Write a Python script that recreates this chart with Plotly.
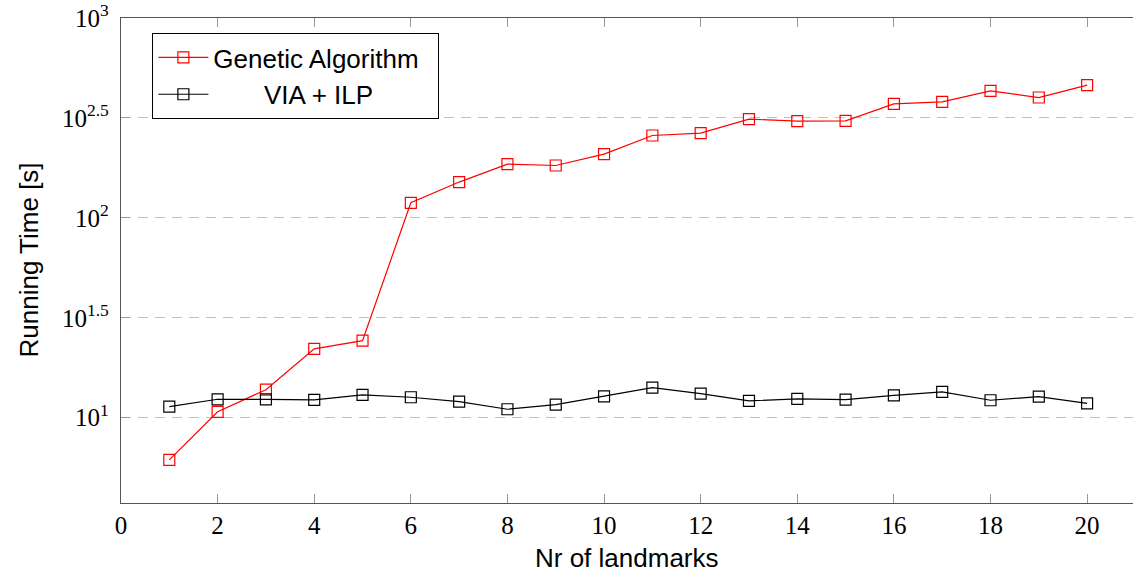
import plotly.graph_objects as go

# Number of landmarks
landmarks = list(range(1, 21))

# Running time in seconds for each method
genetic_algorithm = [6.15, 10.7, 13.8, 22.1, 24.3, 118.9, 151.0, 185.8, 182.8, 208.4,
                     258.2, 265.5, 311.9, 304.8, 305.5, 371.5, 380.2, 431.5, 400.0, 461.3]
via_ilp = [11.35, 12.36, 12.36, 12.27, 13.0, 12.65, 12.02, 11.02, 11.61, 12.79,
           14.13, 13.18, 12.13, 12.42, 12.30, 12.94, 13.46, 12.22, 12.74, 11.80]

# Log-axis ticks and their labels
y_tick_vals = [10, 10 ** 1.5, 100, 10 ** 2.5, 1000]
y_tick_text = ["10<sup>1</sup>", "10<sup>1.5</sup>", "10<sup>2</sup>",
               "10<sup>2.5</sup>", "10<sup>3</sup>"]

NBSP = "\u00a0"

fig = go.Figure()
fig.add_trace(go.Scatter(
    x=landmarks, y=genetic_algorithm, mode="lines+markers",
    name="Genetic Algorithm" + NBSP * 2,
    line=dict(color="#ff0000", width=1.2),
    marker=dict(symbol="square-open", size=11, color="#ff0000", line=dict(width=1.2)),
))
fig.add_trace(go.Scatter(
    x=landmarks, y=via_ilp, mode="lines+markers",
    name=NBSP * 7 + "VIA + ILP",
    line=dict(color="#000000", width=1.2),
    marker=dict(symbol="square-open", size=11, color="#000000", line=dict(width=1.2)),
))

serif = "Liberation Serif"
sans = "Liberation Sans"

fig.update_layout(
    width=1133, height=576,
    margin=dict(l=121, r=0, t=18, b=73),
    paper_bgcolor="white", plot_bgcolor="white",
    showlegend=True,
    legend=dict(
        x=0.031, y=0.969, xanchor="left", yanchor="top",
        bordercolor="black", borderwidth=1, bgcolor="white",
        font=dict(family=sans, size=26, color="black"),
        itemwidth=50, tracegroupgap=0,
    ),
    xaxis=dict(
        range=[0, 20.95], tick0=0, dtick=2,
        ticks="inside", ticklen=9, tickcolor="#999999", tickwidth=1,
        showline=True, linecolor="#555555", linewidth=1.3, mirror="ticks",
        showgrid=False, zeroline=False,
        tickfont=dict(family=serif, size=25, color="black"),
    ),
    yaxis=dict(
        type="log", range=[0.573, 3.0],
        tickmode="array", tickvals=y_tick_vals, ticktext=y_tick_text,
        ticks="inside", ticklen=9, tickcolor="#999999", tickwidth=1,
        showline=True, linecolor="#555555", linewidth=1.3,
        showgrid=True, gridcolor="#c0c0c0", gridwidth=1, griddash="10px,7px",
        zeroline=False,
        tickfont=dict(family=serif, size=25, color="black"),
        ticklabelstandoff=6,
    ),
    annotations=[
        dict(text="Nr of landmarks", xref="paper", yref="paper", x=0.5, y=0,
             xanchor="center", yanchor="middle", yshift=-55, showarrow=False,
             font=dict(family=sans, size=26, color="black")),
        dict(text="Running Time [s]", xref="paper", yref="paper", x=0, y=0.5,
             xanchor="center", yanchor="middle", xshift=-93, textangle=-90,
             showarrow=False, font=dict(family=sans, size=26, color="black")),
    ],
)

fig.write_html("out.html")
